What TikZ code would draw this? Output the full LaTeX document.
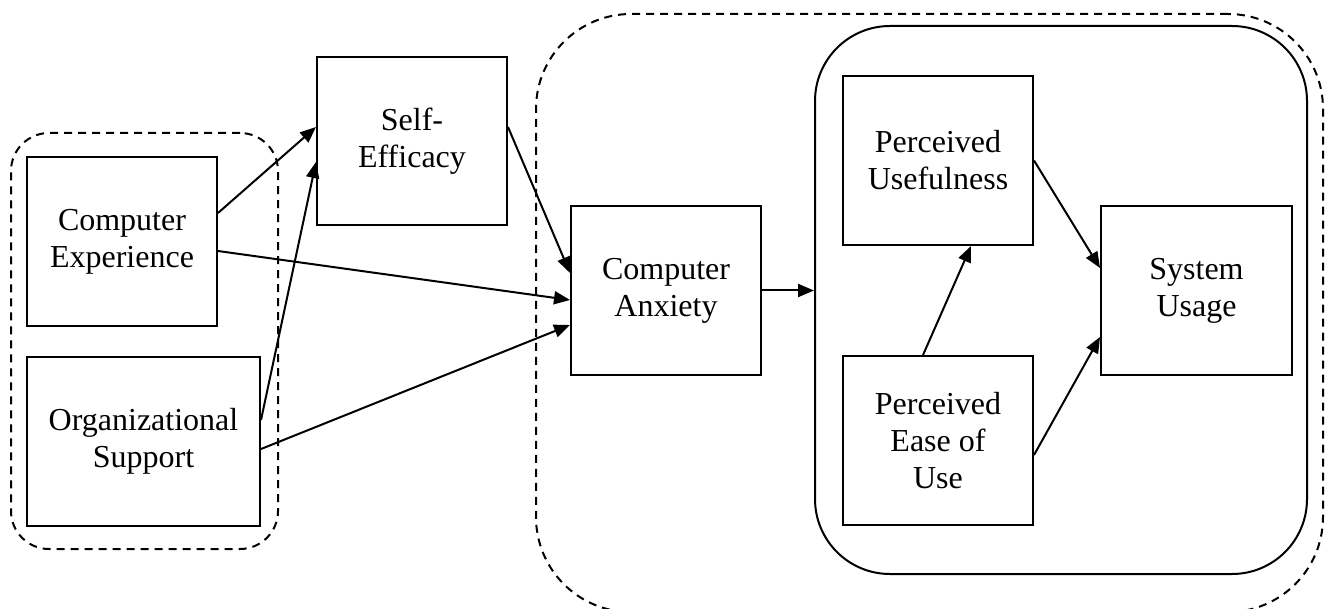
\documentclass[tikz,border=0pt]{standalone}
\usepackage{fontspec}
\setmainfont{Liberation Serif}
\usetikzlibrary{arrows.meta,calc}
\tikzset{
  box/.style={draw, line width=2pt, rectangle, minimum width=190pt, minimum height=169pt, inner sep=0pt, align=center, font=\fontsize{32}{37}\selectfont},
  grp/.style={draw, line width=2pt, dash pattern=on 8pt off 6pt, rectangle, inner sep=0pt},
  frame/.style={draw, line width=2pt, rectangle, inner sep=0pt},
  conn/.style={line width=2pt, -{Triangle[length=16pt,width=13pt]}}
}
\begin{document}
\begin{tikzpicture}[x=1pt,y=-1pt]
\useasboundingbox (0,0) rectangle (1329,609);
% groups
\node[grp, rounded corners=38pt, minimum width=267pt, minimum height=416pt] (grpL) at (144.5,341) {};
\node[grp, rounded corners=95pt, minimum width=787pt, minimum height=598pt] (grpR) at (929.5,313) {};
\node[frame, rounded corners=75pt, minimum width=492pt, minimum height=548pt] (tam) at (1061,300) {};
% boxes
\node[box] (ce) at (122,241.5) {Computer\\Experience};
\node[box, minimum width=233pt] (os) at (143.5,441.5) {Organizational\\Support};
\node[box, minimum height=168pt] (se) at (412,141) {Self-\\Efficacy};
\node[box] (ca) at (666,290.5) {Computer\\Anxiety};
\node[box] (pu) at (938,160.5) {Perceived\\Usefulness};
\node[box] (peu) at (938,440.5) {Perceived\\Ease of\\Use};
\node[box, minimum width=191pt] (su) at (1196.5,290.5) {System\\Usage};
% connectors
\draw[conn] ([yshift=28.5pt]ce.east) -- ([yshift=14pt]se.west);
\draw[conn] ([yshift=21.5pt]os.east) -- ([yshift=-21pt]se.west);
\draw[conn] ([yshift=14pt]se.east) -- ([yshift=17.5pt]ca.west);
\draw[conn] ([yshift=-9.5pt]ce.east) -- ([yshift=-9.5pt]ca.west);
\draw[conn] ([yshift=-7.5pt]os.east) -- ([yshift=-34.5pt]ca.west);
\draw[conn] (ca.east) -- (ca.east -| tam.west);
\draw[conn] ([xshift=-15pt]peu.north) -- ([xshift=33pt]pu.south);
\draw[conn] (pu.east) -- ([yshift=22.5pt]su.west);
\draw[conn] ([yshift=-14.5pt]peu.east) -- ([yshift=-46.5pt]su.west);
\end{tikzpicture}
\end{document}
